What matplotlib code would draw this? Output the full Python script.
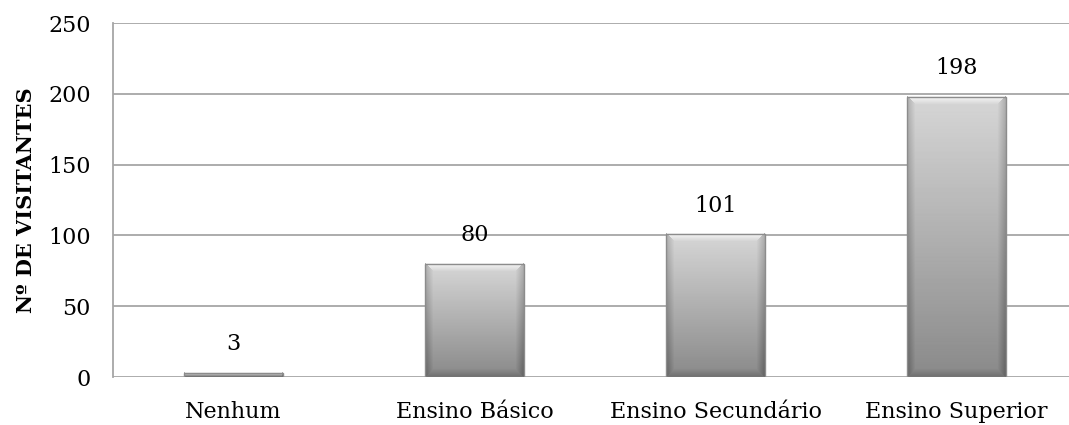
import numpy as np
import matplotlib
matplotlib.use("Agg")
import matplotlib.pyplot as plt
from matplotlib.patches import Rectangle

categories = ["Nenhum", "Ensino Básico", "Ensino Secundário", "Ensino Superior"]
visitors = [3, 80, 101, 198]
yticks = [0, 50, 100, 150, 200, 250]
ylabel = "Nº DE VISITANTES"

W, H, DPI = 1069, 425, 100
fig = plt.figure(figsize=(W / DPI, H / DPI), dpi=DPI)
plt.rcParams["font.family"] = ["DejaVu Serif"]
FS = 16

left, right, bottom, top = 113, 1077, 48, 23  # pixel margins
ax = fig.add_axes([left / W, bottom / H, (right - left) / W, (H - bottom - top) / H])
ax.set_xlim(-0.5, len(categories) - 0.5)
ax.set_ylim(0, 250)

grid_c = "#a6a6a6"
for y in yticks:
    ax.axhline(y, color=grid_c, lw=1.3, zorder=1)
for s in ["top", "right", "bottom"]:
    ax.spines[s].set_visible(False)
ax.spines["left"].set_color(grid_c)
ax.spines["left"].set_linewidth(1.3)

ax.set_yticks(yticks)
ax.set_yticklabels([str(v) for v in yticks], fontsize=FS)
ax.set_xticks(range(len(categories)))
ax.set_xticklabels(categories, fontsize=FS)
ax.tick_params(axis="x", length=0, pad=17)
ax.tick_params(axis="y", length=0, pad=16)
ax.set_ylabel(ylabel, fontsize=15, fontweight="bold", labelpad=9)

bar_w = 0.41
px_per_x = (right - left) / len(categories)
px_per_y = (H - bottom - top) / 250.0


def bevel_image(wpx, hpx, b=8):
    wpx = max(int(round(wpx)), 2)
    hpx = max(int(round(hpx)), 2)
    yy = np.linspace(0, 1, hpx)[:, None]  # 0 top, 1 bottom
    xx = np.arange(wpx)[None, :]
    yi = np.arange(hpx)[:, None]
    base = 0.84 - 0.30 * yy
    img = np.repeat(base, wpx, axis=1)
    bb = min(b, wpx // 3, max(hpx // 3, 1))
    dl = xx
    dr = wpx - 1 - xx
    dt = yi
    db = hpx - 1 - yi
    m = np.minimum(np.minimum(dl, dr), np.minimum(dt, db))
    edge = m < bb
    side_lr = np.minimum(dl, dr) <= np.minimum(dt, db)
    top_side = (dt <= db) & ~side_lr
    bot_side = (db < dt) & ~side_lr
    f = 1 - np.clip(m / max(bb, 1), 0, 1)
    img = np.where(edge & side_lr, img - 0.15 * f, img)
    img = np.where(edge & top_side, img + 0.13 * f, img)
    img = np.where(edge & bot_side, img - 0.10 * f, img)
    return np.clip(img, 0, 1)


for i, v in enumerate(visitors):
    x0 = i - bar_w / 2
    img = bevel_image(bar_w * px_per_x, v * px_per_y)
    ax.imshow(img, cmap="gray", vmin=0, vmax=1, aspect="auto",
              extent=(x0, x0 + bar_w, 0, v), zorder=2, interpolation="bilinear")
    ax.add_patch(Rectangle((x0, 0), bar_w, v, fill=False, ec="#8c8c8c", lw=1.0, zorder=3))
    ax.text(i, v + 20, str(v), ha="center", va="center", fontsize=FS, zorder=4)

ax.set_xlim(-0.5, len(categories) - 0.5)
ax.set_ylim(0, 250)
fig.savefig("out.png", dpi=DPI)
